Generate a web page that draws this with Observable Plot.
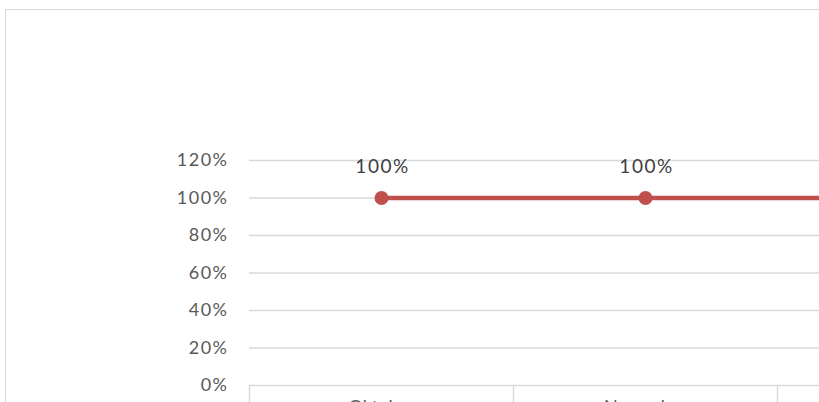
<!DOCTYPE html>
<html>
<head>
<meta charset="utf-8">
<script src="https://cdn.jsdelivr.net/npm/d3@7"></script>
<script src="https://cdn.jsdelivr.net/npm/@observablehq/plot@0.6"></script>
<style>
  html, body { margin: 0; padding: 0; background: #fff; }
  #wrap { position: relative; width: 819px; height: 402px; overflow: hidden; background: #fff; }
  #frame { position: absolute; left: 5px; top: 9px; width: 900px; height: 500px; border: 1px solid #d9d9d9; box-sizing: border-box; }
  #chart { position: absolute; left: 0; top: 0; }
  #chart svg { overflow: hidden; }
  .ytick text { letter-spacing: 1.5px; }
  .dlabel text { letter-spacing: 1.5px; }
</style>
</head>
<body>
<div id="wrap"><div id="frame"></div><div id="chart"></div></div>
<script>
const months = ["Oktober", "November", "Dezember"];
const values = [1.0, 1.0, 1.0];
const yTicks = [0, 0.2, 0.4, 0.6, 0.8, 1.0, 1.2];

const data = months.map((m, i) => ({month: m, value: values[i]}));

const xLeft = 249, bandW = 264;
const xRange = [xLeft, xLeft + bandW * months.length];
const red = "#C0504D";
const fontFam = "Lato, 'Open Sans', sans-serif";
const pct = d3.format(".0%");

const chart = Plot.plot({
  width: 819,
  height: 402,
  marginLeft: xLeft,
  marginRight: 0,
  marginTop: 0,
  marginBottom: 0,
  style: {fontFamily: fontFam, background: "transparent", overflow: "hidden"},
  x: {type: "band", domain: months, range: xRange, padding: 0, axis: null},
  y: {domain: [0, 1.2], range: [385, 160], axis: null},
  marks: [
    Plot.ruleY(yTicks, {y: d => d, stroke: "#d9d9d9", strokeWidth: 1.5, strokeOpacity: 1}),
    Plot.ruleX(months, {x: d => d, dx: -bandW / 2, y1: 0, y2: -0.15, stroke: "#d9d9d9", strokeWidth: 1.5, strokeOpacity: 1}),
    Plot.text(yTicks, {
      y: d => d, frameAnchor: "left", dx: -21, text: d => pct(d), textAnchor: "end",
      fontSize: 18, fill: "#595959", className: "ytick"
    }),
    Plot.text(months, {
      x: d => d, y: 0, dy: 22, text: d => d, fontSize: 18, fill: "#595959", lineAnchor: "middle"
    }),
    Plot.lineY(data, {x: "month", y: "value", stroke: red, strokeWidth: 4.5}),
    Plot.dot(data, {x: "month", y: "value", r: 7, fill: red, stroke: "none"}),
    Plot.text(data, {
      x: "month", y: "value", dy: -31, dx: 1, text: d => pct(d.value),
      fontSize: 19, fill: "#404040", className: "dlabel"
    })
  ]
});
document.getElementById("chart").appendChild(chart);
</script>
</body>
</html>
